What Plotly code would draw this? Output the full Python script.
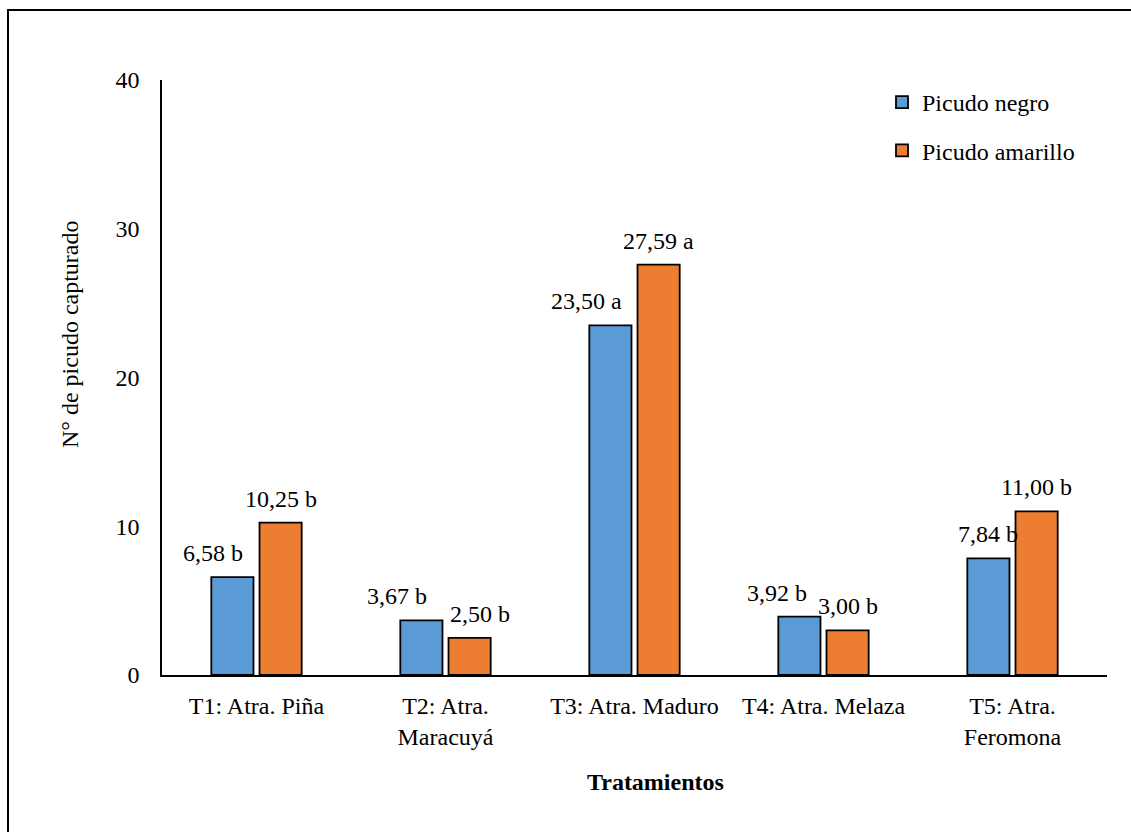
import plotly.graph_objects as go

categories = ["T1: Atra. Piña", "T2: Atra.<br>Maracuyá", "T3: Atra. Maduro",
              "T4: Atra. Melaza", "T5: Atra.<br>Feromona"]
picudo_negro = [6.58, 3.67, 23.50, 3.92, 7.84]
picudo_amarillo = [10.25, 2.50, 27.59, 3.00, 11.00]
letras_negro = ["b", "b", "a", "b", "b"]
letras_amarillo = ["b", "b", "a", "b", "b"]
series_names = ["Picudo negro", "Picudo amarillo"]
y_ticks = [0, 10, 20, 30, 40]

# label nudges (pixels) relative to each bar centre, as in the original
nudge_negro = [-19, -24, -24, -22, 0]
nudge_amarillo = [0, 10, 0, 0, 0]

FONT = "Liberation Serif"
BLUE = "#5B9BD5"
ORANGE = "#ED7D31"

def fmt(v):
    return f"{v:.2f}".replace(".", ",")

fig = go.Figure()
fig.add_trace(go.Bar(x=categories, y=picudo_negro, name=series_names[0],
                     legendgroup="a",
                     marker=dict(color=BLUE, line=dict(color="black", width=1.8))))
fig.add_trace(go.Bar(x=categories, y=picudo_amarillo, name=series_names[1],
                     legendgroup="b",
                     marker=dict(color=ORANGE, line=dict(color="black", width=1.8))))

W, H = 1131, 832
L, R, T, B = 162, 24, 80, 157
pw = W - L - R
ph = H - T - B
cat_w = pw / len(categories)
bargap = 0.49
slot = cat_w * (1 - bargap) / 2

annotations = []
for i, c in enumerate(categories):
    annotations.append(dict(x=c, y=picudo_negro[i], xref="x", yref="y",
                            text=f"{fmt(picudo_negro[i])} {letras_negro[i]}",
                            showarrow=False, yanchor="middle", yshift=24,
                            xshift=-slot / 2 + nudge_negro[i],
                            font=dict(family=FONT, size=24, color="black")))
    annotations.append(dict(x=c, y=picudo_amarillo[i], xref="x", yref="y",
                            text=f"{fmt(picudo_amarillo[i])} {letras_amarillo[i]}",
                            showarrow=False, yanchor="middle", yshift=24,
                            xshift=slot / 2 + nudge_amarillo[i],
                            font=dict(family=FONT, size=24, color="black")))

annotations.append(dict(text="N° de picudo capturado", textangle=-90,
                        xref="paper", yref="paper",
                        x=(70 - L) / pw, y=(H - B - 334) / ph,
                        showarrow=False, xanchor="center", yanchor="middle",
                        font=dict(family=FONT, size=24, color="black")))
annotations.append(dict(text="<b>Tratamientos</b>",
                        xref="paper", yref="paper",
                        x=(655 - L) / pw, y=(H - B - 782) / ph,
                        showarrow=False, xanchor="center", yanchor="middle",
                        font=dict(family=FONT, size=24, color="black")))

fig.update_layout(
    width=W, height=H,
    margin=dict(l=L, r=R, t=T, b=B),
    paper_bgcolor="white", plot_bgcolor="white",
    barmode="group", bargap=bargap, bargroupgap=0.125,
    font=dict(family=FONT, size=24, color="black"),
    showlegend=True,
    legend=dict(x=(882 - L) / pw, y=(H - B - 80) / ph, xanchor="left", yanchor="top",
                bgcolor="rgba(0,0,0,0)", font=dict(family=FONT, size=24),
                tracegroupgap=14, itemwidth=30, traceorder="grouped"),
    annotations=annotations,
    shapes=[dict(type="rect", xref="paper", yref="paper",
                 x0=(8 - L) / pw, x1=(W + 20 - L) / pw,
                 y0=(H - B - (H + 20)) / ph, y1=(H - B - 10) / ph,
                 line=dict(color="black", width=2), fillcolor="rgba(0,0,0,0)")],
)
fig.update_xaxes(type="category", categoryorder="array", categoryarray=categories,
                 showline=True, linecolor="black", linewidth=2, ticks="",
                 showgrid=False, tickfont=dict(family=FONT, size=24),
                 ticklabelstandoff=8)
fig.update_yaxes(range=[0, 40], tickvals=y_ticks, showline=True, linecolor="black",
                 linewidth=1.5, ticks="", showgrid=False, zeroline=False,
                 tickfont=dict(family=FONT, size=24), ticklabelstandoff=16)

fig.write_html("out.html")
